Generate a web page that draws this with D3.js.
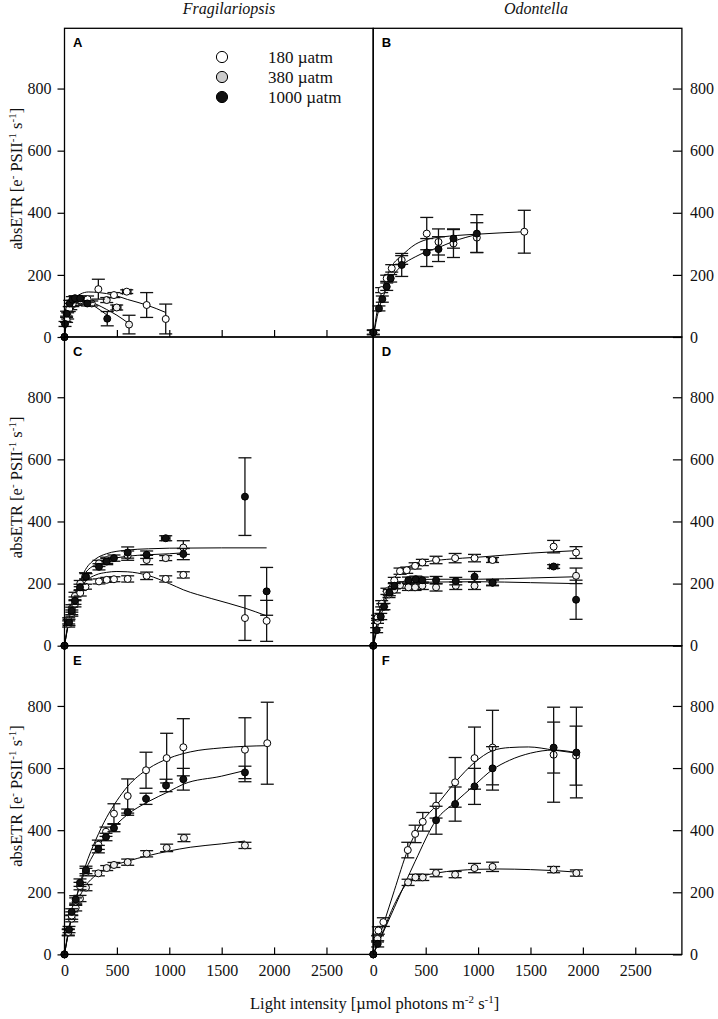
<!DOCTYPE html>
<html>
<head>
<meta charset="utf-8">
<script src="https://cdn.jsdelivr.net/npm/d3@7"></script>
<style>
    body { margin: 0; background: #fff; }
    svg { display: block; font-family: "Liberation Serif", "Times New Roman", serif; }
</style>
</head>
<body>
<svg id="chart" width="718" height="1019"></svg>
<script>
// Light curves (absETR vs light) for two diatoms at three pCO2 levels
// points: [light, absETR, sdY, sdX(optional)]   fits: [light, absETR]

const species = ['Fragilariopsis', 'Odontella'];
const panelLetters = ['A', 'B', 'C', 'D', 'E', 'F'];
const co2Labels = ['180 \u00b5atm', '380 \u00b5atm', '1000 \u00b5atm'];
const xTicks = [500, 1000, 1500, 2000, 2500];
const xTickLabels = ['0', '500', '1000', '1500', '2000', '2500'];
const yTicks = [0, 200, 400, 600, 800];

// Panel A
const ptsA180 = [[0,0,0],[20,55,8],[45,90,8],[80,108,10],[150,118,8],[220,122,10],[323,154,32],[472,135,8],[594,146,6,40],[784,103,40],[966,58,48]];
const fitA180 = [[0,0],[25,60],[50,95],[100,125],[150,138],[230,145],[330,143],[472,135],[600,121],[784,103],[966,79]];
const ptsA380 = [[0,0,0],[30,68,10],[60,98,10],[110,112,10],[170,116,10],[260,108,8],[403,119,8],[498,95,8,40],[616,40,30]];
const fitA380 = [[0,0],[25,62],[50,95],[100,117],[150,122],[200,119],[300,106],[400,89],[500,70],[616,43]];
const ptsA1000 = [[0,0,0],[5,42,8],[20,75,8],[50,108,10],[75,120,10],[100,125,8],[150,124,8],[218,108,8],[408,59,23]];
const fitA1000 = [[0,0],[10,48],[30,88],[60,113],[100,124],[150,123],[220,112],[300,96],[408,70]];

// Panel B
const ptsB180 = [[0,15,6],[80,151,8],[128,189,10],[176,221,12],[271,248,14],[510,333,52],[622,306,42],[765,301,45],[988,320,48],[1441,339,69]];
const fitB180 = [[0,0],[40,90],[80,145],[130,195],[180,230],[271,262],[400,298],[510,314],[650,322],[800,327],[988,331],[1200,335],[1441,339]];
const ptsB1000 = [[0,15,8],[54,92,8],[86,122,10],[128,162,12],[166,189,12],[271,232,37],[510,272,45],[622,283,40],[765,317,31],[988,333,61]];
const fitB1000 = [[0,0],[50,85],[100,135],[150,175],[200,203],[271,230],[400,258],[510,275],[622,288],[765,308],[988,330]];

// Panel C
const ptsC180 = [[0,0,0],[40,70,10],[70,105,10],[100,135,10],[150,170,10],[200,190,8],[329,207,8],[403,212,8],[472,214,8],[603,215,10],[784,225,12],[966,215,10],[1134,228,10],[1722,89,72],[1929,80,66]];
const fitC180 = [[0,0],[50,95],[100,150],[150,185],[200,207],[300,228],[400,236],[500,239],[600,238],[800,226],[1000,200],[1134,180],[1400,152],[1722,121],[1929,96]];
const ptsC380 = [[0,0,0],[40,80,10],[70,120,12],[100,160,12],[150,200,10],[200,225,10],[329,265,10],[403,275,10],[603,290,15],[784,276,15],[966,282,8],[1134,316,22]];
const fitC380 = [[0,0],[50,100],[100,165],[150,208],[200,235],[300,262],[400,275],[600,288],[800,293],[1000,296],[1134,299]];
const ptsC1000 = [[0,0,0],[43,75,10],[69,112,12],[100,145,12],[148,188,10],[205,222,10],[329,254,10],[403,271,10],[472,282,10],[603,300,18],[784,293,12],[966,346,8,40],[1134,295,18],[1722,480,125],[1929,175,77]];
const fitC1000 = [[0,0],[50,90],[100,160],[150,210],[200,245],[300,280],[400,296],[600,308],[800,312],[1000,314],[1500,315],[1929,315]];

// Panel D
const ptsD180 = [[0,0,0],[40,90,8],[80,135,10],[130,175,10],[200,210,10],[255,240,10],[319,243,10],[399,257,10],[468,268,10],[599,276,12],[781,282,15],[966,282,12],[1138,276,8,40],[1721,319,20],[1935,300,19]];
const fitD180 = [[0,0],[50,95],[100,150],[150,190],[200,218],[300,248],[400,262],[500,270],[700,278],[1000,285],[1500,298],[1935,306]];
const ptsD380 = [[0,0,0],[40,80,8],[90,125,10],[150,165,10],[200,180,10],[255,195,10],[335,188,10],[399,188,10],[468,193,12],[599,188,12],[787,193,12],[966,193,12],[1138,203,10],[1935,225,25]];
const fitD380 = [[0,0],[50,90],[100,140],[150,172],[200,188],[300,198],[400,202],[600,205],[1000,206],[1500,203],[1935,200]];
const ptsD1000 = [[0,0,0],[32,50,8],[71,94,10],[102,126,10],[153,171,10],[201,193,10],[335,211,10],[405,214,10],[468,211,10],[599,211,12],[787,208,12],[966,222,17],[1138,203,8],[1721,255,6,40],[1935,148,63]];
const fitD1000 = [[0,0],[50,70],[100,125],[150,168],[200,192],[300,208],[400,212],[600,214],[1000,214],[1500,218],[1935,222]];

// Panel E
const ptsE180 = [[0,0,0],[36,72,10],[69,125,12],[107,170,12],[148,220,12],[205,265,12],[323,353,15],[396,395,15],[472,453,32],[603,510,55],[778,593,58],[975,632,80],[1134,667,92],[1722,659,103],[1935,680,132]];
const fitE180 = [[0,0],[50,90],[100,165],[150,230],[200,285],[300,370],[400,440],[500,495],[600,540],[800,598],[1000,632],[1200,652],[1500,665],[1722,670],[1935,672]];
const ptsE380 = [[0,0,0],[36,70,10],[69,115,10],[107,150,10],[148,180,10],[205,215,10],[323,261,8],[403,278,8],[472,288,8],[603,297,10],[784,324,10],[975,343,12],[1140,375,12],[1722,351,10]];
const fitE380 = [[0,0],[50,95],[100,150],[150,190],[200,220],[300,255],[400,277],[600,300],[800,318],[1000,333],[1200,345],[1500,356],[1722,365]];
const ptsE1000 = [[0,0,0],[43,80,10],[69,137,10],[107,177,12],[148,231,12],[205,272,12],[323,339,12],[396,378,12],[472,407,12],[603,458,10],[778,501,18],[969,544,20],[1134,564,35],[1722,586,20]];
const fitE1000 = [[0,0],[50,95],[100,165],[150,225],[200,270],[300,335],[400,385],[500,420],[600,450],[800,492],[1000,525],[1134,548],[1500,574],[1722,592]];

// Panel F
const ptsF180 = [[0,0,0],[48,77,12],[96,104,14],[329,336,25],[399,388,28],[472,427,30],[599,479,40],[781,554,80],[966,632,100],[1138,666,120],[1721,643,153],[1935,640,95]];
const fitF180 = [[0,0],[100,100],[200,205],[329,336],[399,388],[472,430],[599,479],[781,554],[966,618],[1138,656],[1300,666],[1482,668],[1721,658],[1938,648]];
const ptsF380 = [[0,0,0],[40,50,10],[332,232,10],[402,248,10],[472,248,10],[599,262,12],[781,257,10],[966,278,15],[1138,282,15],[1721,273,10],[1938,262,10]];
const fitF380 = [[0,0],[100,80],[200,160],[332,232],[402,245],[500,255],[600,262],[800,270],[1000,274],[1200,275],[1500,273],[1721,270],[1938,265]];
const ptsF1000 = [[0,0,0],[42,34,10],[599,432,45],[781,484,55],[966,541,58],[1138,599,70],[1721,666,82],[1938,650,146]];
const fitF1000 = [[0,0],[200,150],[400,300],[599,432],[781,490],[966,545],[1138,595],[1300,625],[1500,648],[1721,658],[1938,650]];

// styling / layout
const legendFills = ['#ffffff', '#cccccc', '#111111'];
const markerFills = ['#ffffff', '#eeeeee', '#111111'];
const colLeft = [64.5, 373.3];
const colWidth = 308.6;
const rowTop = [28.3, 337, 645.7];
const rowHeight = 308.7;
const xMax = 2945;
const yMax = 994;

const panels = [
    { col: 0, row: 0, pts: [ptsA380, ptsA180, ptsA1000], fits: [fitA380, fitA180, fitA1000], series: [1, 0, 2], xTicks: true,  xLabels: false },
    { col: 1, row: 0, pts: [ptsB180, ptsB1000],          fits: [fitB180, fitB1000],          series: [0, 2],    xTicks: false, xLabels: false },
    { col: 0, row: 1, pts: [ptsC380, ptsC180, ptsC1000], fits: [fitC380, fitC180, fitC1000], series: [1, 0, 2], xTicks: false, xLabels: false },
    { col: 1, row: 1, pts: [ptsD380, ptsD180, ptsD1000], fits: [fitD380, fitD180, fitD1000], series: [1, 0, 2], xTicks: false, xLabels: false },
    { col: 0, row: 2, pts: [ptsE380, ptsE180, ptsE1000], fits: [fitE380, fitE180, fitE1000], series: [1, 0, 2], xTicks: true,  xLabels: true },
    { col: 1, row: 2, pts: [ptsF380, ptsF180, ptsF1000], fits: [fitF380, fitF180, fitF1000], series: [1, 0, 2], xTicks: true,  xLabels: true }
];

const svg = d3.select('#chart');

// text with superscripts: [text, isSup, dy]
function addRich(sel, parts) {
    parts.forEach(p => {
        if (p[1]) {
            sel.append('tspan').attr('dy', -6).attr('font-size', '11px').text(p[0]);
        } else {
            sel.append('tspan').attr('dy', p[2] || 0).text(p[0]);
        }
    });
}

panels.forEach((p, i) => {
    const x = d3.scaleLinear().domain([0, xMax]).range([colLeft[p.col], colLeft[p.col] + colWidth]);
    const y = d3.scaleLinear().domain([0, yMax]).range([rowTop[p.row] + rowHeight, rowTop[p.row]]);
    const g = svg.append('g').attr('class', 'panel');

    // fitted curves
    const line = d3.line()
        .x(d => x(d[0]))
        .y(d => y(d[1]))
        .curve(d3.curveMonotoneX);
    p.fits.forEach(f => {
        g.append('path')
            .attr('d', line(f))
            .attr('fill', 'none')
            .attr('stroke', '#000')
            .attr('stroke-width', 1);
    });

    // error bars + symbols
    p.pts.forEach((pts, k) => {
        const s = p.series[k];
        const eb = g.append('g').attr('stroke', '#111').attr('stroke-width', 1.3);
        pts.forEach(d => {
            if (d[2] > 0) {
                eb.append('line')
                    .attr('x1', x(d[0])).attr('x2', x(d[0]))
                    .attr('y1', y(d[1] - d[2])).attr('y2', y(d[1] + d[2]));
                [d[1] - d[2], d[1] + d[2]].forEach(v => {
                    eb.append('line')
                        .attr('x1', x(d[0]) - 6.5).attr('x2', x(d[0]) + 6.5)
                        .attr('y1', y(v)).attr('y2', y(v));
                });
            }
            if (d[3]) {
                eb.append('line')
                    .attr('x1', x(d[0] - d[3])).attr('x2', x(d[0] + d[3]))
                    .attr('y1', y(d[1])).attr('y2', y(d[1]));
                [d[0] - d[3], d[0] + d[3]].forEach(v => {
                    eb.append('line')
                        .attr('x1', x(v)).attr('x2', x(v))
                        .attr('y1', y(d[1]) - 3).attr('y2', y(d[1]) + 3);
                });
            }
        });
        g.append('g').selectAll('circle')
            .data(pts)
            .enter()
            .append('circle')
            .attr('cx', d => x(d[0]))
            .attr('cy', d => y(d[1]))
            .attr('r', 3.5)
            .attr('fill', markerFills[s])
            .attr('stroke', '#000')
            .attr('stroke-width', 1);
    });

    // frame
    g.append('rect')
        .attr('x', colLeft[p.col])
        .attr('y', rowTop[p.row])
        .attr('width', colWidth)
        .attr('height', rowHeight)
        .attr('fill', 'none')
        .attr('stroke', '#000')
        .attr('stroke-width', 1.3);

    // y axis
    const yAxis = p.col === 0
        ? d3.axisLeft(y).tickValues(yTicks).tickSize(7).tickPadding(6)
        : d3.axisRight(y).tickValues(yTicks).tickSize(-9).tickPadding(8);
    const ya = g.append('g')
        .attr('transform', `translate(${p.col === 0 ? colLeft[0] : colLeft[1] + colWidth},0)`)
        .call(yAxis);
    ya.select('.domain').remove();
    ya.selectAll('text').attr('font-family', '"Liberation Serif", serif').attr('font-size', '16px').attr('fill', '#111');
    ya.selectAll('line').attr('stroke', '#000').attr('stroke-width', 1.2);

    // x axis (ticks pointing into panel)
    if (p.xTicks) {
        const xAxis = d3.axisBottom(x).tickSize(-7).tickPadding(10);
        if (p.xLabels) {
            xAxis.tickValues([0].concat(xTicks)).tickFormat((d, j) => xTickLabels[j]);
        } else {
            xAxis.tickValues(xTicks).tickFormat('');
        }
        const xa = g.append('g')
            .attr('transform', `translate(0,${rowTop[p.row] + rowHeight})`)
            .call(xAxis);
        xa.select('.domain').remove();
        xa.selectAll('text').attr('font-family', '"Liberation Serif", serif').attr('font-size', '16px').attr('fill', '#111');
        xa.selectAll('line').attr('stroke', '#000').attr('stroke-width', 1.2);
        xa.selectAll('.tick').filter(d => d === 0).select('line').remove();
    }

    // panel letter
    g.append('text')
        .attr('x', colLeft[p.col] + 8.5)
        .attr('y', rowTop[p.row] + 19)
        .attr('font-family', '"Liberation Sans", Arial, sans-serif')
        .attr('font-weight', 'bold')
        .attr('font-size', '13px')
        .text(panelLetters[i]);

    // y label on left column
    if (p.col === 0) {
        const cy = rowTop[p.row] + rowHeight / 2 - 4;
        const t = g.append('text')
            .attr('transform', `translate(22,${cy}) rotate(-90)`)
            .attr('text-anchor', 'middle')
            .attr('font-size', '16.5px')
            .attr('fill', '#111');
        addRich(t, [['absETR [e', false], ['-', true], [' PSII', false, 6], ['-1', true], [' s', false, 6], ['-1', true], [']', false, 6]]);
    }
});

// species titles
species.forEach((s, c) => {
    svg.append('text')
        .attr('x', c === 0 ? 229 : 536)
        .attr('y', 14)
        .attr('text-anchor', 'middle')
        .attr('font-style', 'italic')
        .attr('font-size', '16px')
        .attr('fill', '#111')
        .text(s);
});

// legend in panel A
const legend = svg.append('g').attr('class', 'legend');
const legendItems = legend.selectAll('.legend-item')
    .data(co2Labels)
    .enter()
    .append('g')
    .attr('class', 'legend-item')
    .attr('transform', (d, i) => `translate(222,${57 + i * 20})`);
legendItems.append('circle')
    .attr('r', 5.6)
    .attr('fill', (d, i) => legendFills[i])
    .attr('stroke', '#000')
    .attr('stroke-width', 1);
legendItems.append('text')
    .attr('x', 46)
    .attr('y', 5.5)
    .attr('font-size', '17px')
    .attr('fill', '#111')
    .text(d => d);

// x axis title
const xt = svg.append('text')
    .attr('x', 250)
    .attr('y', 1009)
    .attr('font-size', '16.5px')
    .attr('fill', '#111');
addRich(xt, [['Light intensity [\u00b5mol photons m', false], ['-2', true], [' s', false, 6], ['-1', true], [']', false, 6]]);
</script>
</body>
</html>
